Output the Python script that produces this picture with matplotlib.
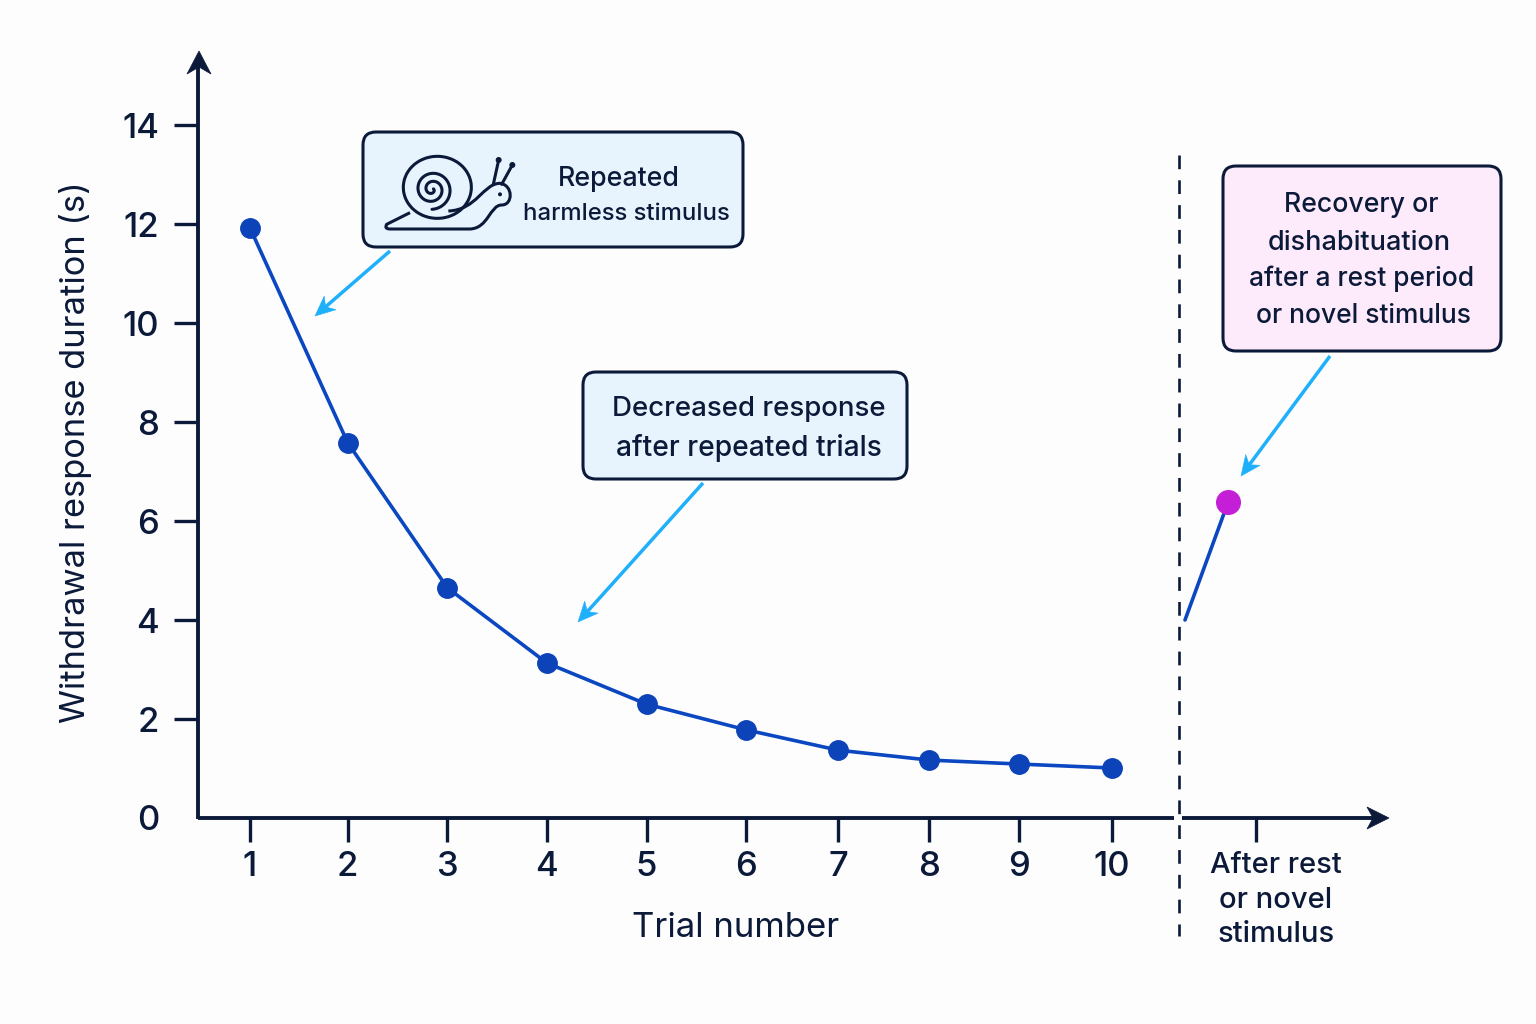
import numpy as np
import matplotlib
matplotlib.use("Agg")
import matplotlib.pyplot as plt
from matplotlib.patches import FancyBboxPatch, PathPatch, Circle, Arc, Polygon
from matplotlib.path import Path

# ---- data ----
trial_labels = ["1", "2", "3", "4", "5", "6", "7", "8", "9", "10"]
trial_positions = [1.0, 2.02, 3.06, 4.10, 5.14, 6.18, 7.14, 8.09, 9.03, 10.0]
response_s = [11.92, 7.58, 4.65, 3.13, 2.30, 1.78, 1.37, 1.17, 1.09, 1.01]
recovery_x = [10.76, 11.21]
recovery_y = [4.0, 6.38]
after_tick = [11.50]
after_label = "After rest\nor novel\nstimulus"
y_ticks = [0, 2, 4, 6, 8, 10, 12, 14]

NAVY = "#0c1a3a"
BLUE = "#0b47c0"
DOT = "#0c43b8"
MAG = "#c41fd6"
ARROW = "#1fb0fb"
BG = "#fdfdfe"
plt.rcParams["font.family"] = ["Inter", "DejaVu Sans"]
plt.rcParams["font.weight"] = "medium"

W, H = 1536, 1024
fig = plt.figure(figsize=(15.36, 10.24), dpi=100, facecolor=BG)
L, R, T, B = 198, 1388, 52, 818
ax = fig.add_axes([L / W, 1 - B / H, (R - L) / W, (B - T) / H], facecolor="none")
ax.set_xlim(0.457, 12.879)
ax.set_ylim(0, 15.475)
for s in ax.spines.values():
    s.set_visible(False)

ax.plot(trial_positions, response_s, color=BLUE, lw=2.6, marker="o", ms=14,
        mfc=DOT, mec=DOT, solid_capstyle="round", clip_on=False, zorder=3)
ax.plot(recovery_x, recovery_y, color=BLUE, lw=2.6, solid_capstyle="round", zorder=3)
ax.plot(recovery_x[-1:], recovery_y[-1:], "o", ms=17, color=MAG, mec=MAG, zorder=4)

ax.set_yticks(y_ticks)
ax.set_yticklabels([str(v) for v in y_ticks])
ax.set_xticks(trial_positions + after_tick)
ax.set_xticklabels(trial_labels + [""])
ax.tick_params(axis="y", length=17, width=2.4, color=NAVY, labelcolor=NAVY, labelsize=25, pad=11)
ax.tick_params(axis="x", length=17, width=2.4, color=NAVY, labelcolor=NAVY, labelsize=25, pad=7)
ax.yaxis.get_major_ticks()[0].tick1line.set_visible(False)
ax.set_xlabel("Trial number", fontsize=25, color=NAVY)
ax.xaxis.set_label_coords((736 - L) / (R - L), -(912 - B) / (B - T), transform=ax.transAxes)
ax.xaxis.label.set_va("top")
ax.set_ylabel("Withdrawal response duration (s)", fontsize=24.8, color=NAVY)
ax.yaxis.set_label_coords((76 - L) / (R - L), (B - 452) / (B - T), transform=ax.transAxes)
ax.yaxis.label.set_va("center")

# ---- overlay in reference pixel coordinates ----
ov = fig.add_axes([0, 0, 1, 1], facecolor="none")
ov.set_xlim(0, W)
ov.set_ylim(H, 0)
ov.axis("off")

ov.plot([198, 198], [819, 60], color=NAVY, lw=2.8, solid_capstyle="butt")
ov.plot([198, 1174], [818, 818], color=NAVY, lw=2.8, solid_capstyle="butt")
ov.plot([1182, 1375], [818, 818], color=NAVY, lw=2.8, solid_capstyle="butt")
for verts in ([(199, 51), (211, 74), (199, 67), (187, 74)],
              [(1389, 818), (1367, 807), (1373, 818), (1367, 829)]):
    ov.add_patch(Polygon(verts, closed=True, fc=NAVY, ec=NAVY, lw=0.5))
ov.plot([1179, 1179], [155, 936], color=NAVY, lw=1.9, dashes=(5.2, 4.2))
ov.text(1276, 900, after_label, ha="center", va="center", fontsize=21, color=NAVY,
        linespacing=1.38)


def box(x0, y0, x1, y1, fc):
    ov.add_patch(FancyBboxPatch((x0 + 13, y0 + 13), x1 - x0 - 26, y1 - y0 - 26,
                                boxstyle="round,pad=13,rounding_size=13",
                                fc=fc, ec=NAVY, lw=2.2, zorder=2))


box(363, 132, 743, 247, "#e8f4fd")
box(583, 372, 907, 479, "#e8f4fd")
box(1223, 166, 1501, 351, "#fdebfb")


def label(x, y, s, fs):
    ov.text(x, y, s, ha="center", va="center", fontsize=fs, color=NAVY, zorder=5)


label(619, 179, "Repeated", 19.3)
label(626, 214, "harmless stimulus", 17.2)
label(749, 409, "Decreased response", 19.9)
label(749, 448, "after repeated trials", 20.3)
label(1361, 205, "Recovery or", 19.2)
label(1359, 243, "dishabituation", 19.5)
label(1362, 279, "after a rest period", 19)
label(1363, 316, "or novel stimulus", 19)

for a, b in (((390, 251), (315, 316)), ((703, 483), (578, 622)), ((1330, 356), (1241, 476))):
    a, b = np.array(a, float), np.array(b, float)
    u = (b - a) / np.hypot(*(b - a))
    n = np.array([-u[1], u[0]])
    neck = b - 14 * u
    ov.plot([a[0], neck[0]], [a[1], neck[1]], color=ARROW, lw=2.5, solid_capstyle="butt", zorder=3)
    ov.add_patch(Polygon([b, b - 20 * u + 9 * n, neck, b - 20 * u - 9 * n], closed=True,
                         fc=ARROW, ec=ARROW, lw=0.4, zorder=3))


# ---- snail icon (drawn in crop coordinates) ----
def p(x, y):
    return (360 + x / 3, 125 + y / 3)


icon = dict(color=NAVY, lw=2.2, zorder=4, solid_capstyle="round", solid_joinstyle="round")
body = [p(150, 263), p(80, 298), p(72, 312), p(90, 312), p(330, 312),
        p(385, 310), p(390, 240), p(425, 240),
        p(460, 240), p(460, 180), p(420, 175),
        p(370, 175), p(350, 255), p(265, 258)]
codes = [Path.MOVETO, Path.LINETO, Path.CURVE3, Path.CURVE3, Path.LINETO,
         Path.CURVE4, Path.CURVE4, Path.CURVE4,
         Path.CURVE4, Path.CURVE4, Path.CURVE4,
         Path.CURVE4, Path.CURVE4, Path.CURVE4]
ov.add_patch(PathPatch(Path(body, codes), fc="none", ec=NAVY, lw=2.2, zorder=4))
cx, cy = p(232, 187)
ov.add_patch(Arc((cx, cy), 68, 62, theta1=20, theta2=380, ec=NAVY, lw=2.2, zorder=4))
t = np.linspace(0, 1, 160)
ang = np.pi / 2 - 2.3 * 2 * np.pi * (1 - t)
r = 1.5 + 18.5 * t
sx, sy = p(216, 193)
ov.plot(sx + r * np.cos(ang), sy + r * np.sin(ang), **icon)
ov.plot(*zip(p(400, 178), p(416, 105)), **icon)
ov.plot(*zip(p(425, 178), p(457, 120)), **icon)
for q, rad in ((p(416, 105), 3), (p(457, 120), 3), (p(420, 208), 2)):
    ov.add_patch(Circle(q, rad, fc=NAVY, ec="none", zorder=5))

fig.savefig("out.png", dpi=100, facecolor=BG)
